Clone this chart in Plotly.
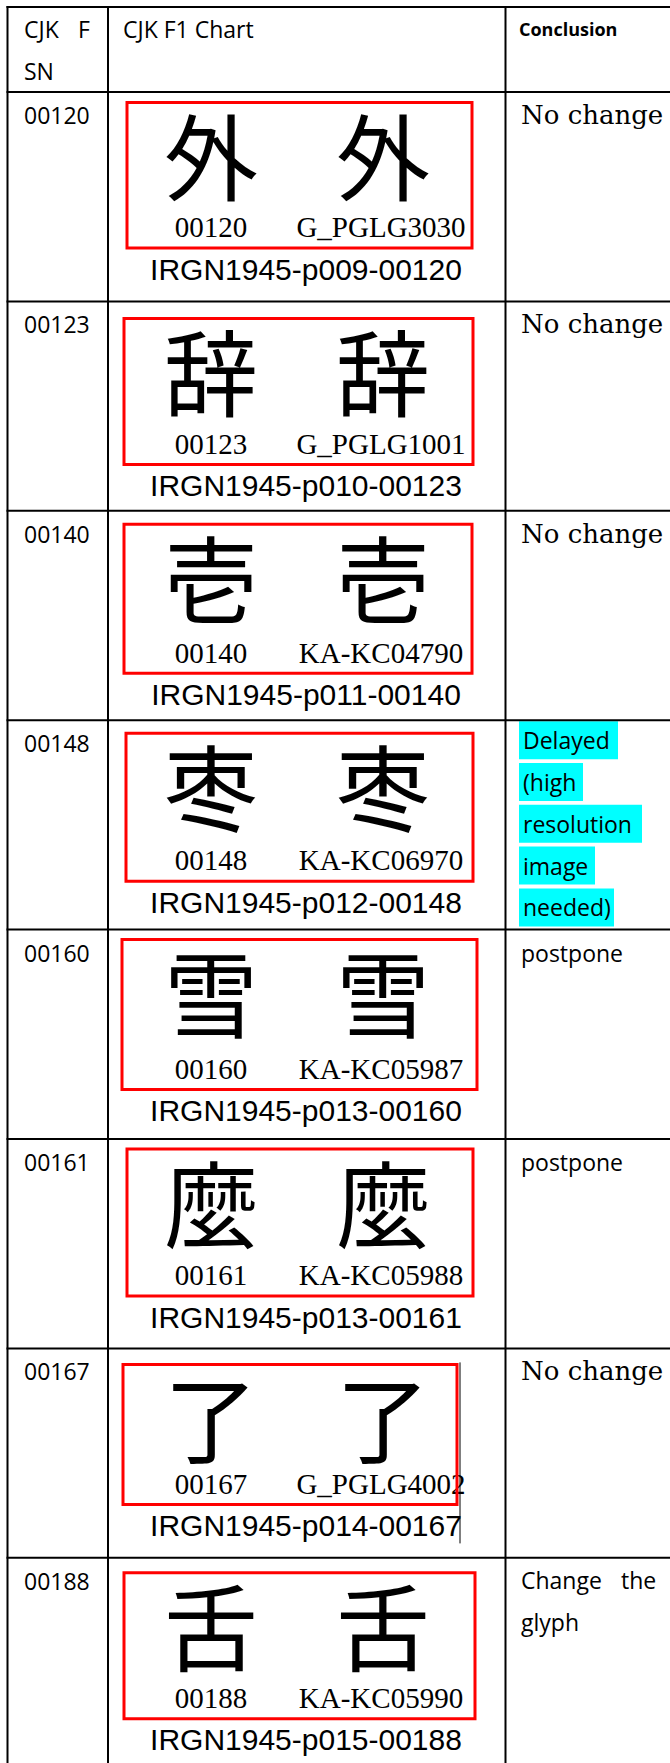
import plotly.graph_objects as go

# ---------------- data ----------------
sn = ["00120", "00123", "00140", "00148", "00160", "00161", "00167", "00188"]
glyphs = ["外", "辞", "壱", "枣", "雪", "麼", "了", "舌"]
source_codes = ["G_PGLG3030", "G_PGLG1001", "KA-KC04790", "KA-KC06970",
                "KA-KC05987", "KA-KC05988", "G_PGLG4002", "KA-KC05990"]
irg_pages = ["p009", "p010", "p011", "p012", "p013", "p013", "p014", "p015"]
conclusions = ["No change", "No change", "No change",
               "Delayed (high resolution image needed)",
               "postpone", "postpone", "No change", "Change the glyph"]
header_sn = ["CJK", "F", "SN"]
header_chart = "CJK F1 Chart"
header_concl = "Conclusion"
doc_id = "IRGN1945"

# ---------------- layout constants ----------------
W, H = 670, 1763
X_L, X_D1, X_D2 = 7.5, 108, 505.5
Y_TOP, Y_HEAD, ROW_H = 7, 92, 209.4
LINE_W = 2
# red box geometry per row: x0, x1, top offset, bottom offset (relative to row top)
BOX = [(127, 472, 10.5, 156), (124, 473, 17, 163), (124, 472, 13.5, 162.5),
       (126, 473, 13, 161), (122, 477, 10, 160), (127, 473, 10, 157),
       (123, 457, 16, 156), (124, 475, 15, 161)]
GLYPH_X = (211, 383)
LABEL_X = (211, 381)
IRG_X = 306
CONC_X = 519
SANS = "Open Sans"
SERIF = "Liberation Serif"
CJK = "Noto Sans CJK JP"
LINE_PITCH = 41.8
HL_W = {"Delayed": 99, "(high": 64, "resolution": 123, "image": 76, "needed)": 95}

n = len(sn)
row_tops = [Y_HEAD + ROW_H * i for i in range(n)]

fig = go.Figure()
shapes = []
ann = []


def label(x, y, text, anchor="left", family=SANS, size=23):
    ann.append(dict(x=x, y=y, text=text, xanchor=anchor, yanchor="middle",
                    showarrow=False, font=dict(family=family, size=size, color="black")))


# grid
for y in [Y_TOP, Y_HEAD] + [t + ROW_H for t in row_tops[:-1]]:
    shapes.append(dict(type="line", x0=X_L - 1, x1=W, y0=y, y1=y,
                       line=dict(color="black", width=LINE_W)))
for x in [X_L, X_D1, X_D2]:
    shapes.append(dict(type="line", x0=x, x1=x, y0=Y_TOP - 1, y1=H,
                       line=dict(color="black", width=LINE_W)))

# header
hy1, hy2 = 29, 29 + LINE_PITCH
label(22, hy1, header_sn[0])
label(92, hy1, header_sn[1], anchor="right")
label(22, hy2, header_sn[2])
label(121, hy1, header_chart)
label(CONC_X - 2, hy1, "<b>" + header_concl + "</b>", size=18)

gx, gy, gt = [], [], []
lx, ly, lt = [], [], []
ix, iy, it = [], [], []
for i in range(n):
    top = row_tops[i]
    x0, x1, o0, o1 = BOX[i]
    b0, b1 = top + o0, top + o1
    shapes.append(dict(type="rect", x0=x0, x1=x1, y0=b0, y1=b1,
                       line=dict(color="#ff0000", width=3)))
    for k in range(2):
        gx.append(GLYPH_X[k]); gy.append(b0 + 68); gt.append(glyphs[i])
    lx += [LABEL_X[0], LABEL_X[1]]; ly += [b1 - 18, b1 - 18]; lt += [sn[i], source_codes[i]]
    ix.append(IRG_X); iy.append(b1 + 24); it.append(f"{doc_id}-{irg_pages[i]}-{sn[i]}")

    # SN column
    label(22, top + 23, sn[i])
    # conclusion column
    c = conclusions[i]
    if c == "No change":
        label(CONC_X, top + 23, c, family="DejaVu Serif", size=26)
    elif c.startswith("Delayed"):
        words = c.split(" ")
        for j, w in enumerate(words):
            yc = top + 20 + j * LINE_PITCH
            shapes.append(dict(type="rect", x0=CONC_X, x1=CONC_X + HL_W[w],
                               y0=yc - 19, y1=yc + 19, fillcolor="#00ffff",
                               line=dict(width=0), layer="below"))
            label(CONC_X + 1.5, yc, w)
    elif c == "postpone":
        label(CONC_X, top + 23, c)
    else:
        words = c.split(" ")
        label(CONC_X, top + 22, words[0])
        label(658, top + 22, words[1], anchor="right")
        label(CONC_X, top + 22 + LINE_PITCH, words[2])

# thin black line at the right of row 7 image
t7 = row_tops[6]
shapes.append(dict(type="line", x0=460, x1=460, y0=t7 + 14, y1=t7 + 195,
                   line=dict(color="black", width=1)))

fig.add_trace(go.Scatter(x=gx, y=gy, text=gt, mode="text", textposition="middle center",
                         textfont=dict(family=CJK, size=94, color="black"),
                         hoverinfo="skip", showlegend=False))
fig.add_trace(go.Scatter(x=lx, y=ly, text=lt, mode="text", textposition="middle center",
                         textfont=dict(family=SERIF, size=29, color="black"),
                         hoverinfo="skip", showlegend=False))
fig.add_trace(go.Scatter(x=ix, y=iy, text=it, mode="text", textposition="middle center",
                         textfont=dict(family="Liberation Sans", size=30, color="black"),
                         hoverinfo="skip", showlegend=False))

fig.update_layout(
    width=W, height=H, margin=dict(l=0, r=0, t=0, b=0),
    paper_bgcolor="white", plot_bgcolor="white",
    xaxis=dict(range=[0, W], visible=False, fixedrange=True),
    yaxis=dict(range=[H, 0], visible=False, fixedrange=True),
    shapes=shapes, annotations=ann, showlegend=False,
)
fig.write_html("out.html", config={"displayModeBar": False},
               post_script="document.body.style.margin='0';document.body.style.padding='0';")
